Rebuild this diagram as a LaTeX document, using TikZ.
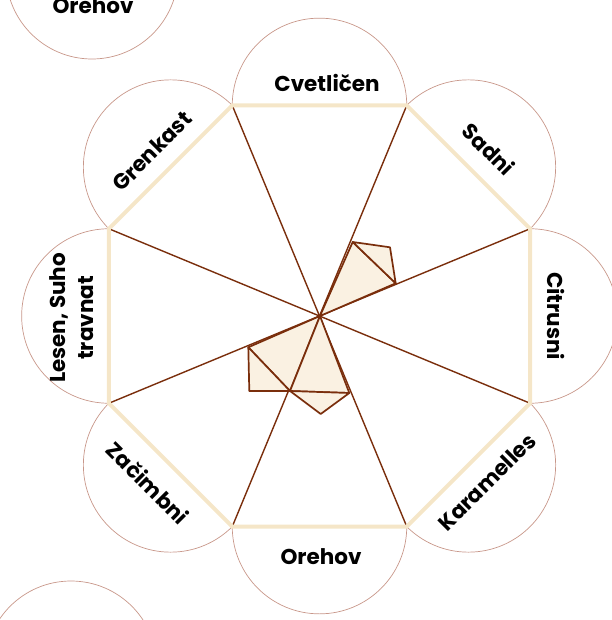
\documentclass[tikz,border=0pt]{standalone}
\usepackage{fontspec}
\setmainfont{Poppins}
\definecolor{brn}{HTML}{7A2E0C}
\definecolor{crm}{HTML}{F5E6C8}
\definecolor{fillc}{HTML}{FAF1E2}
\definecolor{circ}{HTML}{C8978A}
\tikzset{
  petal/.style={draw=circ, line width=0.7pt},
  diag/.style={draw=brn, line width=1.4pt},
  rim/.style={draw=crm, line width=4pt, line join=miter},
  datashape/.style={fill=fillc, draw=brn, line width=1.7pt, line join=round},
  lbl/.style={font=\fontsize{21.5}{28}\selectfont\bfseries, align=center, inner sep=0pt},
}
\begin{document}
\begin{tikzpicture}[x=1pt,y=-1pt]
\useasboundingbox (0,0) rectangle (611,620);
% centre and octagon vertices
\coordinate (O) at (319.5,316);
\coordinate (V0) at (530.1,228.75);
\coordinate (V1) at (406.75,105.4);
\coordinate (V2) at (232.25,105.4);
\coordinate (V3) at (108.9,228.75);
\coordinate (V4) at (108.9,403.25);
\coordinate (V5) at (232.25,526.6);
\coordinate (V6) at (406.75,526.6);
\coordinate (V7) at (530.1,403.25);
% edge midpoints
\coordinate (M0) at (530.1,316);
\coordinate (M1) at (468.4,167.1);
\coordinate (M2) at (319.5,105.4);
\coordinate (M3) at (170.6,167.1);
\coordinate (M4) at (108.9,316);
\coordinate (M5) at (170.6,464.9);
\coordinate (M6) at (319.5,526.6);
\coordinate (M7) at (468.4,464.9);
% stray circles
\draw[petal] (92,-27) circle (86);
\draw[petal] (71,667) circle (86);
\node[lbl] (strayorehov) at (93,6) {Orehov};
% petals
\foreach \m in {M0,M1,M2,M3,M4,M5,M6,M7}
  \draw[petal] (\m) circle (87.25);
% octagon body
\fill[white] (V0) -- (V1) -- (V2) -- (V3) -- (V4) -- (V5) -- (V6) -- (V7) -- cycle;
% diagonals
\draw[diag] (V0) -- (V4);
\draw[diag] (V1) -- (V5);
\draw[diag] (V2) -- (V6);
\draw[diag] (V3) -- (V7);
% rim
\draw[rim] (V0) -- (V1) -- (V2) -- (V3) -- (V4) -- (V5) -- (V6) -- (V7) -- cycle;
% data shapes
\coordinate (A) at (352.7,242);
\coordinate (B) at (390,247.3);
\coordinate (C) at (395.7,283.3);
\coordinate (D) at (248.3,347.3);
\coordinate (F) at (249.3,391);
\coordinate (E) at (290,391);
\coordinate (G) at (349.3,393);
\coordinate (H) at (320.7,414);
\coordinate (Oc) at (320,316);
\draw[datashape] (Oc) -- (A) -- (C) -- cycle;
\draw[datashape] (A) -- (B) -- (C) -- cycle;
\draw[datashape] (Oc) -- (D) -- (E) -- cycle;
\draw[datashape] (D) -- (F) -- (E) -- cycle;
\draw[datashape] (Oc) -- (E) -- (G) -- cycle;
\draw[datashape] (E) -- (H) -- (G) -- cycle;
% labels
\node[lbl, rotate=-90] (citrusni) at (556,316) {Citrusni};
\node[lbl, rotate=-45] (sadni) at (489,149) {Sadni};
\node[lbl] (cvetlicen) at (327,83) {Cvetličen};
\node[lbl, rotate=45] (grenkast) at (152,151) {Grenkast};
\node[lbl, rotate=90] (lesen) at (72,318) {Lesen, Suho\\travnat};
\node[lbl, rotate=-45] (zacimbni) at (148,483) {Začimbni};
\node[lbl] (orehov) at (321,557) {Orehov};
\node[lbl, rotate=45] (karamelles) at (487,482) {Karamelles};
\end{tikzpicture}
\end{document}
